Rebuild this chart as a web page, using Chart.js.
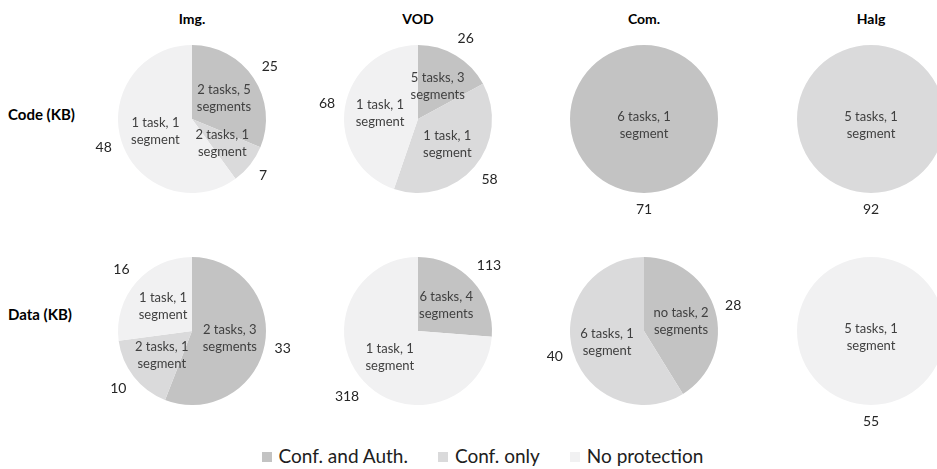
<!DOCTYPE html>
<html>
<head>
<meta charset="utf-8">
<script src="https://cdn.jsdelivr.net/npm/chart.js@4.4.1/dist/chart.umd.min.js"></script>
<style>
  body { margin: 0; background: #fff; }
  #page { position: relative; width: 937px; height: 469px; overflow: hidden; font-family: Lato, sans-serif; }
  #page canvas { position: absolute; }
  .head { position: absolute; top: 10px; width: 120px; margin-left: -60px; text-align: center; font-weight: bold; font-size: 14px; color: #000; }
  .row { position: absolute; left: 8px; font-weight: bold; font-size: 15px; color: #000; }
  #legend { position: absolute; top: 444px; left: 14px; width: 937px; text-align: center; font-size: 19px; color: #202020; }
  #legend span { display: inline-block; margin: 0 15px; }
  #legend i { display: inline-block; width: 10px; height: 10px; margin-right: 7px; vertical-align: 1px; }
</style>
</head>
<body>
<div id="page">
  <div id="legend"></div>
</div>
<script>
var apps = ['Img.', 'VOD', 'Com.', 'Halg']
var rows = ['Code (KB)', 'Data (KB)']
var protection = ['Conf. and Auth.', 'Conf. only', 'No protection']
var colors = ['#c3c3c3', '#dadadb', '#f1f1f2']

// sizes in KB, one array per protection level, indexed like apps
var codeConfAuth = [25, 26, 71, 0]
var codeConfOnly = [7, 58, 0, 92]
var codeNoProt = [48, 68, 0, 0]
var dataConfAuth = [33, 113, 28, 0]
var dataConfOnly = [10, 0, 40, 0]
var dataNoProt = [16, 318, 0, 55]

// task / segment split of each slice
var codeTasks = [
    ['2 tasks, 5 segments', '2 tasks, 1 segment', '1 task, 1 segment'],
    ['5 tasks, 3 segments', '1 task, 1 segment', '1 task, 1 segment'],
    ['6 tasks, 1 segment', '', ''],
    ['', '5 tasks, 1 segment', '']
]
var dataTasks = [
    ['2 tasks, 3 segments', '2 tasks, 1 segment', '1 task, 1 segment'],
    ['6 tasks, 4 segments', '', '1 task, 1 segment'],
    ['no task, 2 segments', '6 tasks, 1 segment', ''],
    ['', '', '5 tasks, 1 segment']
]

var colX = [192, 418, 644, 871]
var rowY = [119, 331]
var R = 74
var W = 226, H = 200

var page = document.getElementById('page')

var sliceLabels = {
    id: 'sliceLabels',
    afterDatasetsDraw(chart) {
        var ctx = chart.ctx
        var tasks = chart.options.plugins.sliceLabels.tasks
        var meta = chart.getDatasetMeta(0)
        var values = chart.data.datasets[0].data
        ctx.save()
        ctx.textAlign = 'center'
        ctx.textBaseline = 'middle'
        meta.data.forEach((arc, i) => {
            if (!values[i]) return
            var p = arc.getProps(['x', 'y', 'startAngle', 'endAngle', 'outerRadius'], true)
            var mid = (p.startAngle + p.endAngle) / 2
            var full = p.endAngle - p.startAngle > Math.PI * 2 - 0.01
            var c = Math.cos(mid), s = Math.sin(mid)

            // task text inside the slice, wrapped before the last word
            var t = tasks[i]
            if (t) {
                ctx.fillStyle = '#404040'
                ctx.font = '13px Lato'
                var cut = t.lastIndexOf(' ')
                var r1 = full ? 0 : p.outerRadius * 0.52
                var ix = p.x + c * r1
                var iy = p.y + s * r1 + (full ? 6 : 0)
                ctx.fillText(t.slice(0, cut), ix, iy - 8)
                ctx.fillText(t.slice(cut + 1), ix, iy + 9)
            }

            // size in KB just outside the rim
            ctx.fillStyle = '#262626'
            ctx.font = '14px Lato'
            var txt = String(values[i])
            var w = ctx.measureText(txt).width
            var half = Math.abs(c) * w / 2 + Math.abs(s) * 7
            var r2 = p.outerRadius + 9 + half
            ctx.fillText(txt, p.x + c * r2, p.y + s * r2)
        })
        ctx.restore()
    }
}

function makePie(col, row, values, tasks) {
    var cv = document.createElement('canvas')
    cv.width = W
    cv.height = H
    cv.style.left = (colX[col] - W / 2) + 'px'
    cv.style.top = (rowY[row] - H / 2) + 'px'
    page.appendChild(cv)
    new Chart(cv.getContext('2d'), {
        type: 'pie',
        data: {
            labels: protection,
            datasets: [{
                data: values,
                backgroundColor: colors,
                borderWidth: 0,
                radius: R
            }]
        },
        options: {
            responsive: false,
            animation: false,
            layout: { padding: 0 },
            plugins: {
                legend: { display: false },
                tooltip: { enabled: false },
                sliceLabels: { tasks: tasks }
            }
        },
        plugins: [sliceLabels]
    })
}

apps.forEach((name, i) => {
    var h = document.createElement('div')
    h.className = 'head'
    h.style.left = colX[i] + 'px'
    h.textContent = name
    page.appendChild(h)

    makePie(i, 0, [codeConfAuth[i], codeConfOnly[i], codeNoProt[i]], codeTasks[i])
    makePie(i, 1, [dataConfAuth[i], dataConfOnly[i], dataNoProt[i]], dataTasks[i])
})

var rowTop = [105, 305]
rows.forEach((name, i) => {
    var d = document.createElement('div')
    d.className = 'row'
    d.style.top = rowTop[i] + 'px'
    d.textContent = name
    page.appendChild(d)
})

var legend = document.getElementById('legend')
protection.forEach((name, i) => {
    var item = document.createElement('span')
    var box = document.createElement('i')
    box.style.background = colors[i]
    item.appendChild(box)
    item.appendChild(document.createTextNode(name))
    legend.appendChild(item)
})
</script>
</body>
</html>
